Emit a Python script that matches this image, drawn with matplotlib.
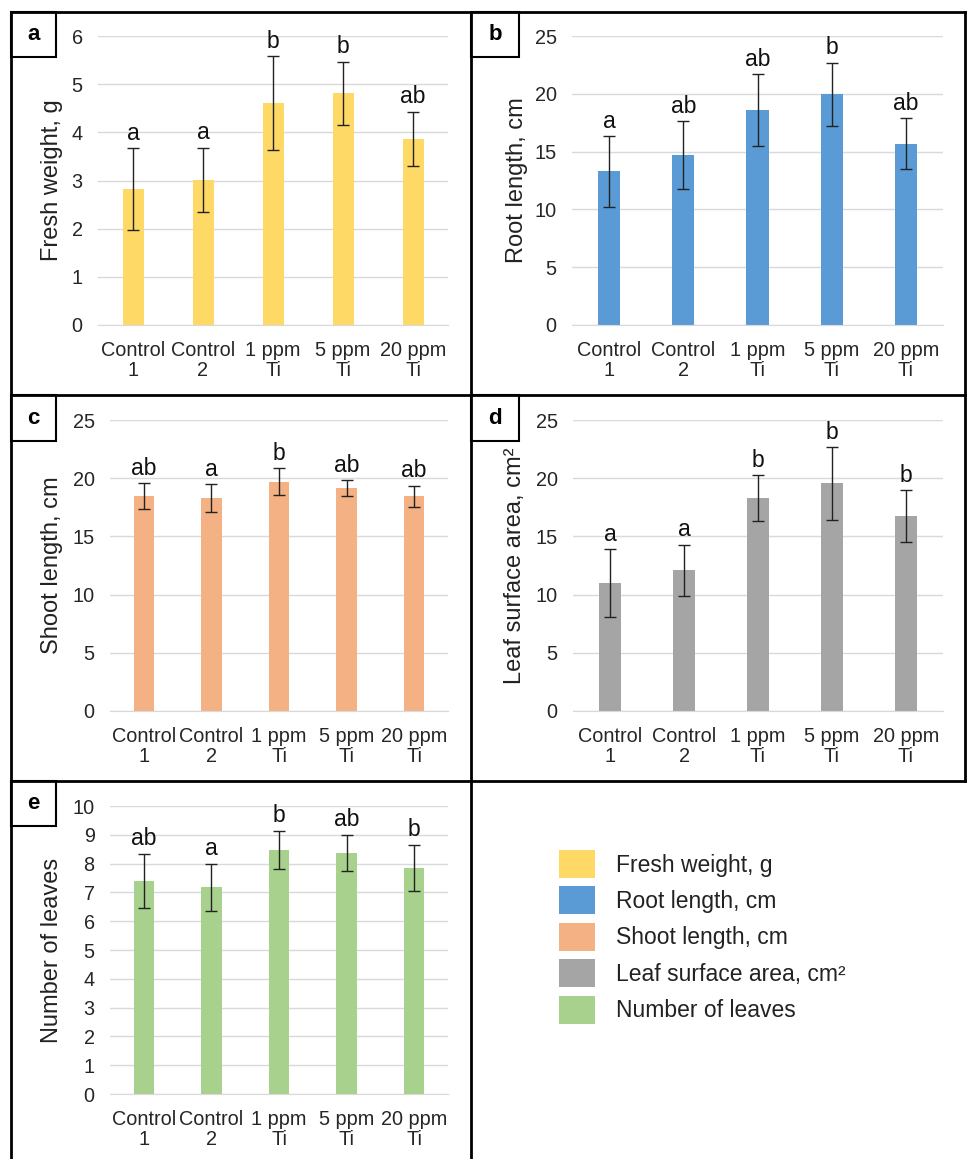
import matplotlib
matplotlib.use("Agg")
import matplotlib.pyplot as plt
from matplotlib.patches import Rectangle, Patch
from matplotlib.lines import Line2D

plt.rcParams['font.family'] = ['Liberation Sans', 'DejaVu Sans']

groups = ["Control\n1", "Control\n2", "1 ppm\nTi", "5 ppm\nTi", "20 ppm\nTi"]

fresh_weight = [2.82, 3.01, 4.61, 4.81, 3.87]
fresh_weight_err = [0.85, 0.67, 0.97, 0.66, 0.56]
fresh_weight_sig = ["a", "a", "b", "b", "ab"]

root_length = [13.3, 14.7, 18.6, 19.95, 15.7]
root_length_err = [3.05, 2.95, 3.1, 2.75, 2.2]
root_length_sig = ["a", "ab", "ab", "b", "ab"]

shoot_length = [18.45, 18.3, 19.7, 19.15, 18.45]
shoot_length_err = [1.1, 1.2, 1.15, 0.7, 0.9]
shoot_length_sig = ["ab", "a", "b", "ab", "ab"]

leaf_area = [11.0, 12.1, 18.3, 19.55, 16.75]
leaf_area_err = [2.9, 2.2, 1.95, 3.1, 2.25]
leaf_area_sig = ["a", "a", "b", "b", "b"]

leaves = [7.4, 7.18, 8.48, 8.38, 7.86]
leaves_err = [0.95, 0.82, 0.66, 0.63, 0.8]
leaves_sig = ["ab", "a", "b", "ab", "b"]

W, H = 968, 1159
fig = plt.figure(figsize=(W / 100, H / 100), dpi=100)


def box(x0, y0, x1, y1):
    return [x0 / W, 1 - y1 / H, (x1 - x0) / W, (y1 - y0) / H]


def panel(rect, vals, errs, sig, color, ylabel, ymax, step, label_x):
    ax = fig.add_axes(box(*rect))
    x = range(len(vals))
    ax.bar(x, vals, width=0.3, color=color, zorder=2)
    ax.errorbar(x, vals, yerr=errs, fmt="none", ecolor="#222222",
                elinewidth=1, capsize=4, capthick=1, zorder=3)
    for i, (v, e, s) in enumerate(zip(vals, errs, sig)):
        ax.annotate(s, (i, v + e), xytext=(0, 6), textcoords="offset points",
                    ha="center", va="baseline", fontsize=16.5, color="#111111")
    ax.set_xlim(-0.5, len(vals) - 0.5)
    ax.set_ylim(0, ymax)
    ax.set_yticks(range(0, ymax + 1, step))
    ax.set_xticks(list(x))
    ax.set_xticklabels(groups, linespacing=1.1)
    ax.tick_params(length=0, labelsize=14.3, colors="#262626")
    ax.tick_params(axis="y", pad=11)
    ax.tick_params(axis="x", pad=11.5)
    ax.yaxis.grid(True, color="#d9d9d9", linewidth=1, zorder=0)
    ax.set_axisbelow(True)
    for sp in ["top", "right", "left"]:
        ax.spines[sp].set_visible(False)
    ax.spines["bottom"].set_color("#d9d9d9")
    ax.set_ylabel(ylabel, fontsize=17, color="#222222")
    ax.yaxis.label.set_va("center")
    ax.yaxis.set_label_coords((label_x - rect[0]) / (rect[2] - rect[0]), 0.5)
    return ax


panel((98, 36, 448, 325), fresh_weight, fresh_weight_err, fresh_weight_sig,
      "#ffd966", "Fresh weight, g", 6, 1, 52)
panel((572, 36, 943, 325), root_length, root_length_err, root_length_sig,
      "#5b9bd5", "Root length, cm", 25, 5, 517)
panel((110, 420, 448, 711), shoot_length, shoot_length_err, shoot_length_sig,
      "#f4b183", "Shoot length, cm", 25, 5, 52)
panel((573, 420, 943, 711), leaf_area, leaf_area_err, leaf_area_sig,
      "#a5a5a5", "Leaf surface area, cm²", 25, 5, 515)
panel((110, 806, 448, 1094), leaves, leaves_err, leaves_sig,
      "#a9d18e", "Number of leaves", 10, 1, 52)


# panel frames
def hline(y, x0, x1, lw=2):
    fig.add_artist(Line2D([x0 / W, x1 / W], [1 - y / H, 1 - y / H],
                          color="black", linewidth=lw))


def vline(x, y0, y1, lw=2):
    fig.add_artist(Line2D([x / W, x / W], [1 - y0 / H, 1 - y1 / H],
                          color="black", linewidth=lw))


hline(12, 11, 965)
hline(395, 11, 965)
hline(781, 11, 965)
vline(11, 12, 1159)
vline(471, 12, 1159)
vline(965, 12, 781)

tags = ["a", "b", "c", "d", "e"]
tag_boxes = [(11, 12, 56, 57), (471, 12, 519, 57), (11, 395, 56, 441),
             (471, 395, 519, 441), (11, 781, 56, 826)]
for t, (x0, y0, x1, y1) in zip(tags, tag_boxes):
    fig.add_artist(Rectangle((x0 / W, 1 - y1 / H), (x1 - x0) / W, (y1 - y0) / H,
                             fill=False, edgecolor="black", linewidth=1.5))
    fig.text((x0 + x1) / 2 / W, 1 - (y0 + y1) / 2 / H, t, ha="center", va="center",
             fontsize=16, fontweight="bold")

legend_labels = ["Fresh weight, g", "Root length, cm", "Shoot length, cm",
                 "Leaf surface area, cm²", "Number of leaves"]
legend_colors = ["#ffd966", "#5b9bd5", "#f4b183", "#a5a5a5", "#a9d18e"]
handles = [Patch(facecolor=c, edgecolor="none") for c in legend_colors]
fig.legend(handles, legend_labels, loc="upper left",
           bbox_to_anchor=(559 / W, 1 - 850 / H), frameon=False, fontsize=16.5,
           handlelength=1.55, handleheight=1.5, handletextpad=0.95,
           labelspacing=0.37, borderpad=0, borderaxespad=0, labelcolor="#222222")

fig.savefig("out.png", dpi=100)
